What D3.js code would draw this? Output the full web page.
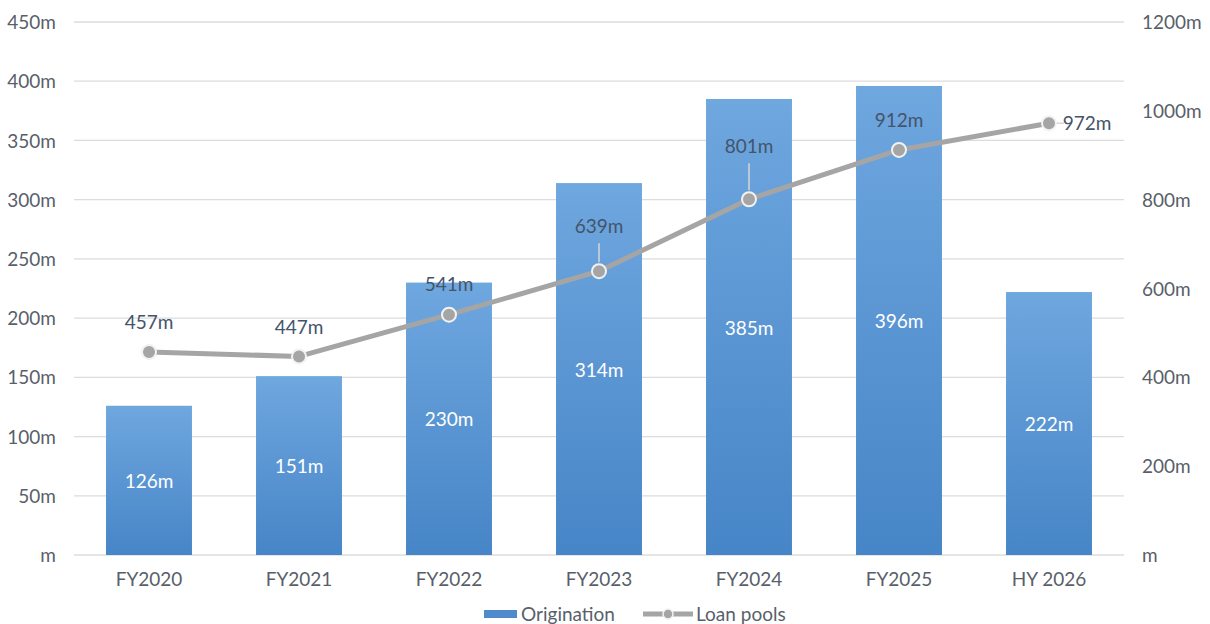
<!DOCTYPE html>
<html><head><meta charset="utf-8">
<script src="https://cdn.jsdelivr.net/npm/d3@7/dist/d3.min.js"></script>
<style>body{margin:0;background:#fff}svg{display:block;font-family:Lato,"Open Sans",sans-serif}</style>
</head><body><svg id="c" width="1210" height="624"></svg>
<script>
const categories = ["FY2020","FY2021","FY2022","FY2023","FY2024","FY2025","HY 2026"];
const origination = [126,151,230,314,385,396,222];
const loanPools = [457,447,541,639,801,912,972];
const loanPoolCategories = ["FY2020","FY2021","FY2022","FY2023","FY2024","FY2025","HY 2026"];
const leftTicks = [0,50,100,150,200,250,300,350,400,450];
const rightTicks = [0,200,400,600,800,1000,1200];
const lineLabelPos = [[0,-30],[0,-29],[0,-30],[0,-45],[0,-53],[0,-30],[38,0]];

const FS = "19px";
const svg = d3.select("#c");
const L = 74, R = 1124, T = 22, B = 555;
const x = d3.scaleBand().domain(categories).range([L,R]).paddingInner(0.427).paddingOuter(0.2135);
const yL = d3.scaleLinear().domain([0,450]).range([B,T]);
const yR = d3.scaleLinear().domain([0,1200]).range([B,T]);

const defs = svg.append("defs");
const g = defs.append("linearGradient").attr("id","bg").attr("x1",0).attr("y1",0).attr("x2",0).attr("y2",1);
g.append("stop").attr("offset","0%").attr("stop-color","#6fa7df");
g.append("stop").attr("offset","100%").attr("stop-color","#4685c7");

svg.append("g").selectAll("line").data(leftTicks).join("line")
  .attr("x1",L).attr("x2",R).attr("y1",d=>yL(d)).attr("y2",d=>yL(d))
  .attr("stroke","#dcdcdc").attr("stroke-width",1.3);

const axL = d3.axisLeft(yL).tickValues(leftTicks).tickSize(0).tickPadding(0).tickFormat(d=> d===0?"m":d+"m");
const gL = svg.append("g").attr("transform",`translate(56,0)`).call(axL);
gL.select(".domain").remove();
gL.selectAll("text").attr("fill","#595f6a").style("font-size",FS).style("font-family","Lato").attr("dy","0.35em");

const axR = d3.axisRight(yR).tickValues(rightTicks).tickSize(0).tickPadding(0).tickFormat(d=> d===0?"m":d+"m");
const gR = svg.append("g").attr("transform",`translate(1142,0)`).call(axR);
gR.select(".domain").remove();
gR.selectAll("text").attr("fill","#595f6a").style("font-size",FS).style("font-family","Lato").attr("dy","0.35em");

svg.append("g").selectAll("rect").data(origination).join("rect")
  .attr("x",(d,i)=>x(categories[i])).attr("width",x.bandwidth())
  .attr("y",d=>yL(d)).attr("height",d=>B-yL(d)).attr("fill","url(#bg)");

svg.append("g").selectAll("text").data(origination).join("text")
  .attr("x",(d,i)=>x(categories[i])+x.bandwidth()/2)
  .attr("y",d=>(yL(d)+B)/2+1).attr("dy","0.35em")
  .attr("text-anchor","middle").attr("fill","#fff").style("font-size",FS)
  .text(d=>d+"m");

const axB = d3.axisBottom(x).tickSize(0).tickPadding(0);
const gB = svg.append("g").attr("transform",`translate(0,${B})`).call(axB);
gB.select(".domain").remove();
gB.selectAll("text").attr("fill","#595f6a").style("font-size",FS).style("font-family","Lato").attr("y",18).attr("dy","0.71em");

const cx = (i)=> x(loanPoolCategories[i])+x.bandwidth()/2;
const line = d3.line().x((d,i)=>cx(i)).y(d=>yR(d));
svg.append("path").datum(loanPools).attr("d",line).attr("fill","none")
  .attr("stroke","#a5a5a5").attr("stroke-width",5).attr("stroke-linejoin","round");

const lg = svg.append("g");
loanPools.forEach((d,i)=>{
  const [dx,dy]=lineLabelPos[i];
  if (i===3 || i===4){
    lg.append("line").attr("x1",cx(i)).attr("x2",cx(i)).attr("y1",yR(d)+dy+17).attr("y2",yR(d)-9)
      .attr("stroke","#d6d6d6").attr("stroke-width",1.5);
  }
  if (i===6){
    lg.append("line").attr("x1",cx(i)+7).attr("x2",cx(i)+15).attr("y1",yR(d)).attr("y2",yR(d))
      .attr("stroke","#d6d6d6").attr("stroke-width",1.5);
  }
});

svg.append("g").selectAll("circle").data(loanPools).join("circle")
  .attr("cx",(d,i)=>cx(i)).attr("cy",d=>yR(d)).attr("r",7)
  .attr("fill","#a5a5a5").attr("stroke","#f2f2f2").attr("stroke-width",2);

svg.append("g").selectAll("text").data(loanPools).join("text")
  .attr("x",(d,i)=>cx(i)+lineLabelPos[i][0])
  .attr("y",(d,i)=>yR(d)+lineLabelPos[i][1]).attr("dy","0.35em")
  .attr("text-anchor","middle").attr("fill","#44546a").style("font-size",FS)
  .text(d=>d+"m");

const leg = svg.append("g");
leg.append("rect").attr("x",484).attr("y",610).attr("width",33).attr("height",8).attr("fill","#4f8bcc");
leg.append("text").attr("x",521).attr("y",614).attr("dy","0.35em").attr("fill","#595f6a").style("font-size",FS).text("Origination");
leg.append("line").attr("x1",643).attr("x2",693).attr("y1",614).attr("y2",614).attr("stroke","#a5a5a5").attr("stroke-width",5);
leg.append("circle").attr("cx",668).attr("cy",614).attr("r",5).attr("fill","#a5a5a5").attr("stroke","#f2f2f2").attr("stroke-width",1.5);
leg.append("text").attr("x",696).attr("y",614).attr("dy","0.35em").attr("fill","#595f6a").style("font-size",FS).text("Loan pools");
</script></body></html>
